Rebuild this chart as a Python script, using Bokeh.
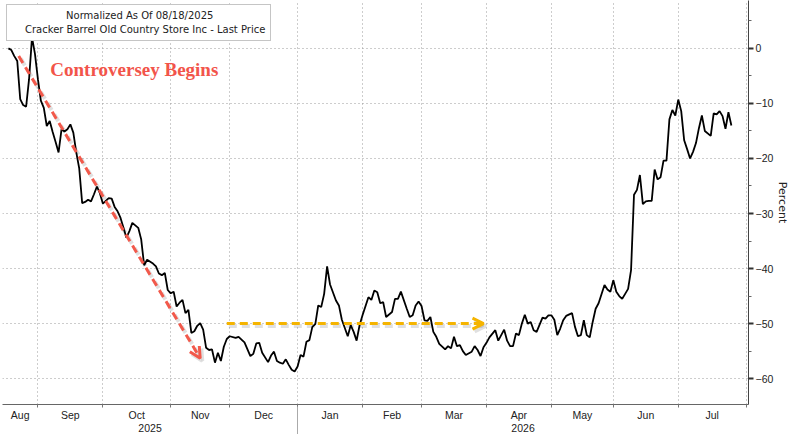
import numpy as np
from bokeh.plotting import figure
from bokeh.models import (Range1d, LinearAxis, FixedTicker, Legend, LegendItem,
                          Arrow, OpenHead, Label)
from bokeh.embed import file_html
from bokeh.resources import INLINE

# ---------------- data ----------------
start_date = "2025-08-18"
legend_title = "Normalized As Of 08/18/2025"
series_name = "Cracker Barrel Old Country Store Inc - Last Price"
note_text = "Controversey Begins"
y_label = "Percent"

# trading days since 08/18/2025 and normalized percent change
trading_day = [0, 1, 2, 3, 4, 5, 6, 7, 8, 9, 10, 11, 12, 13, 14, 15, 16, 17, 18, 19,
               20, 21, 22, 23, 24, 25, 26, 27, 28, 29, 30, 31, 32, 34, 35, 36, 37, 38, 39, 40,
               41, 42, 44, 45, 46, 47, 49, 50, 51, 52, 53, 54, 55, 56, 57, 58, 59, 60, 61, 62,
               63, 64, 65, 66, 67, 68, 69, 70, 71, 72, 73, 74, 75, 77, 78, 80, 82, 83, 84, 85,
               86, 88, 89, 90, 91, 92, 93, 94, 95, 96, 97, 98, 99, 100, 101, 102, 103, 104, 105, 106,
               107, 108, 109, 111, 112, 113, 115, 116, 117, 118, 119, 120, 122, 123, 124, 125, 126, 127, 128, 130,
               131, 132, 133, 135, 136, 137, 138, 139, 140, 141, 142, 143, 144, 145, 146, 147, 148, 149, 150, 151,
               152, 153, 154, 155, 157, 158, 159, 160, 161, 162, 163, 165, 166, 167, 168, 169, 170, 171, 172, 173,
               174, 175, 176, 177, 178, 179, 181, 182, 183, 184, 185, 186, 187, 188, 189, 191, 192, 193, 194, 195,
               196, 197, 198, 199, 200, 202, 203, 204, 205, 206, 207, 208, 209, 210, 211, 212, 213, 214, 215, 216,
               217, 218, 219, 220, 221, 222, 223, 224, 225, 226, 227, 228, 229, 230, 231, 232, 233, 234, 235, 236,
               238, 239, 240, 241, 242, 243, 244, 245]
pct = [0.0, -0.3, -1.4, -2.3, -9.2, -10.3, -10.6, -5.6, 2.0, -1.0, -5.6, -9.5, -10.8, -14.1, -13.2, -15.2, -17.0, -18.9, -14.7, -15.1,
       -14.7, -13.8, -15.3, -18.9, -21.8, -28.1, -27.9, -27.5, -27.8, -26.5, -25.1, -26.3, -28.2, -27.2, -27.3, -28.8, -29.6, -30.8, -32.6, -34.4,
       -33.2, -31.7, -32.6, -34.7, -39.4, -38.4, -39.1, -39.6, -40.9, -41.2, -40.8, -43.9, -44.5, -44.2, -46.9, -46.2, -45.7, -48.1, -47.5, -51.7,
       -51.4, -50.4, -49.9, -51.1, -54.4, -54.8, -54.7, -57.1, -55.3, -56.8, -54.2, -52.8, -52.3, -52.6, -52.4, -53.4, -55.9, -55.5, -53.6, -53.5,
       -55.3, -57.0, -55.8, -55.1, -56.8, -57.1, -57.3, -56.5, -57.5, -58.4, -58.7, -57.8, -55.7, -56.0, -53.3, -53.0, -50.6, -50.1, -46.7, -47.0,
       -44.6, -39.6, -42.9, -45.8, -46.7, -49.3, -52.3, -50.3, -51.5, -53.1, -50.3, -48.5, -45.2, -45.7, -44.0, -44.3, -46.3, -46.1, -48.8, -47.9,
       -45.5, -45.5, -44.2, -47.3, -48.8, -48.5, -46.7, -46.0, -46.8, -49.4, -49.5, -48.8, -51.5, -52.4, -53.7, -54.2, -54.7, -54.1, -54.5, -52.4,
       -54.1, -53.9, -55.0, -55.7, -55.1, -54.1, -54.8, -55.9, -54.3, -53.5, -52.5, -51.2, -53.1, -52.1, -51.1, -53.1, -54.1, -54.1, -51.8, -52.1,
       -50.0, -48.4, -50.0, -49.7, -51.2, -51.5, -48.9, -49.1, -48.5, -48.5, -49.3, -52.1, -50.9, -49.4, -48.6, -48.1, -50.6, -52.3, -52.1, -49.4,
       -52.1, -52.5, -49.7, -47.3, -46.3, -43.0, -43.8, -44.2, -42.1, -44.2, -45.0, -45.5, -44.6, -43.7, -40.3, -26.6, -25.7, -23.0, -28.3, -27.8,
       -27.7, -27.7, -22.0, -23.8, -23.4, -20.4, -20.4, -12.9, -11.2, -12.2, -9.3, -11.4, -16.7, -18.3, -20.0, -18.8, -17.2, -14.5, -12.2, -15.0,
       -15.9, -11.8, -12.0, -11.4, -12.3, -14.6, -11.6, -14.0]

month_labels = ["Aug", "Sep", "Oct", "Nov", "Dec", "Jan", "Feb", "Mar", "Apr", "May", "Jun", "Jul"]
month_starts = ["2025-09-01", "2025-10-01", "2025-11-01", "2025-12-01", "2026-01-01", "2026-02-01",
                "2026-03-01", "2026-04-01", "2026-05-01", "2026-06-01", "2026-07-01", "2026-08-01"]
year_labels = ["2025", "2026"]
year_break = "2026-01-01"
y_ticks = [-60, -50, -40, -30, -20, -10, 0]

# annotation anchors (trading day, percent)
red_arrow = (3.5, -1.4, 65.0, -56.3)
gold_arrow = (74.0, -50.0, 161.0, -50.0)
note_pos = (14.2, -3.9)

# ---------------- derived ----------------
X0, X1 = -2.0, 250.8
Y0, Y1 = -64.7, 8.7

def bday(d):
    return int(np.busday_count(start_date, d))

ms_idx = [bday(d) for d in month_starts]
bounds = [X0] + ms_idx
month_mid = [round((bounds[i] + bounds[i + 1]) / 2, 2) for i in range(len(month_labels))]
jan_idx = bday(year_break)
year_mid = [round((X0 + jan_idx) / 2, 2), round((jan_idx + X1) / 2, 2)]

AX_FONT = "Liberation Sans"
TXT = "#222222"
GRID = "#9a9a9a"

p = figure(width=800, height=434, x_range=Range1d(X0, X1), y_range=Range1d(Y0, Y1),
           y_axis_location="right", output_backend="svg", toolbar_location=None,
           min_border_left=2, min_border_top=0, min_border_right=52, min_border_bottom=0,
           background_fill_color="white", border_fill_color="white", outline_line_color=None)

# grids
p.xgrid.ticker = FixedTicker(ticks=ms_idx)
p.ygrid.ticker = FixedTicker(ticks=y_ticks)
for g in (p.xgrid, p.ygrid):
    g.grid_line_color = GRID
    g.grid_line_dash = "1 3"
    g.grid_line_width = 1

# right y axis
ya = p.yaxis[0]
ya.ticker = FixedTicker(ticks=y_ticks, minor_ticks=[t - 5 for t in y_ticks] + [y_ticks[-1] + 5])
ya.axis_line_color = "#444444"
ya.major_tick_out = 5
ya.major_tick_in = 0
ya.major_tick_line_width = 2
ya.major_tick_line_color = "#333333"
ya.minor_tick_out = 3
ya.minor_tick_in = 0
ya.minor_tick_line_color = "#666666"
ya.major_label_text_font = AX_FONT
ya.major_label_text_font_size = "10.5px"
ya.major_label_text_color = TXT
ya.major_label_standoff = 2
ya.axis_label = y_label
ya.axis_label_text_font = "DejaVu Sans"
ya.axis_label_text_font_size = "11px"
ya.axis_label_text_font_style = "normal"
ya.axis_label_text_color = TXT
ya.axis_label_standoff = 0

# month axis
xa = p.xaxis[0]
xa.ticker = FixedTicker(ticks=month_mid, minor_ticks=ms_idx)
xa.major_label_overrides = {m: lab for m, lab in zip(month_mid, month_labels)}
xa.major_tick_out = 0
xa.major_tick_in = 0
xa.minor_tick_out = 3
xa.minor_tick_in = 0
xa.minor_tick_line_color = "#777777"
xa.axis_line_color = "#666666"
xa.major_label_text_font = AX_FONT
xa.major_label_text_font_size = "10.5px"
xa.major_label_text_color = TXT
xa.major_label_standoff = 1

# year axis
yr = LinearAxis(ticker=FixedTicker(ticks=year_mid, minor_ticks=[]))
yr.major_label_overrides = {m: lab for m, lab in zip(year_mid, year_labels)}
yr.axis_line_color = None
yr.major_tick_out = 0
yr.major_tick_in = 0
yr.minor_tick_out = 0
yr.minor_tick_in = 0
yr.major_label_text_font = AX_FONT
yr.major_label_text_font_size = "10.5px"
yr.major_label_text_color = TXT
yr.major_label_standoff = 0
p.add_layout(yr, "below")

# year separator (bottom-most axis, tick drawn upward)
sep = LinearAxis(ticker=FixedTicker(ticks=[], minor_ticks=[jan_idx]))
sep.axis_line_color = None
sep.major_tick_out = 0
sep.major_tick_in = 0
sep.minor_tick_out = 0
sep.minor_tick_in = 28
sep.minor_tick_line_color = "#aaaaaa"
sep.major_label_standoff = 0
sep.major_label_text_font_size = "0px"
p.add_layout(sep, "below")

# arrows (with soft shadow)
def add_arrow(coords, color, dash):
    xs, ys, xe, ye = coords
    shadow = Arrow(x_start=xs + 0.7, y_start=ys - 0.45, x_end=xe + 0.7, y_end=ye - 0.45,
                   line_color="black", line_alpha=0.12, line_width=4, line_dash=dash,
                   end=OpenHead(size=11, line_color="black", line_alpha=0.12, line_width=4))
    a = Arrow(x_start=xs, y_start=ys, x_end=xe, y_end=ye,
              line_color=color, line_width=3, line_dash=dash,
              end=OpenHead(size=11, line_color=color, line_width=3))
    p.add_layout(shadow)
    p.add_layout(a)

add_arrow(red_arrow, "#F2594B", "8 5")
add_arrow(gold_arrow, "#F5B400", "8 5")

# price line
line_r = p.line(trading_day, pct, line_color="black", line_width=1.8)

# annotation text
p.add_layout(Label(x=note_pos[0], y=note_pos[1], text=note_text, text_font="Liberation Serif",
                   text_font_style="bold", text_font_size="19px", text_color="#F2544A",
                   text_baseline="alphabetic", text_align="left"))

# legend
sq = p.rect(x=[], y=[], width=1, height=1, fill_color="black", line_color="black")
legend = Legend(items=[LegendItem(label=series_name, renderers=[sq])],
                title="\u00a0" * 17 + legend_title,
                location="top_left", margin=4, padding=5, spacing=0,
                glyph_width=10, glyph_height=10, label_height=12, label_standoff=3,
                title_standoff=2,
                label_text_font="DejaVu Sans", label_text_font_size="10px", label_text_color=TXT,
                title_text_font="DejaVu Sans", title_text_font_size="10px", title_text_color=TXT,
                title_text_font_style="normal",
                border_line_color="#8c8c8c", border_line_width=1,
                background_fill_color="white", background_fill_alpha=1.0)
p.add_layout(legend)

open("out.html", "w").write(file_html(p, INLINE))
